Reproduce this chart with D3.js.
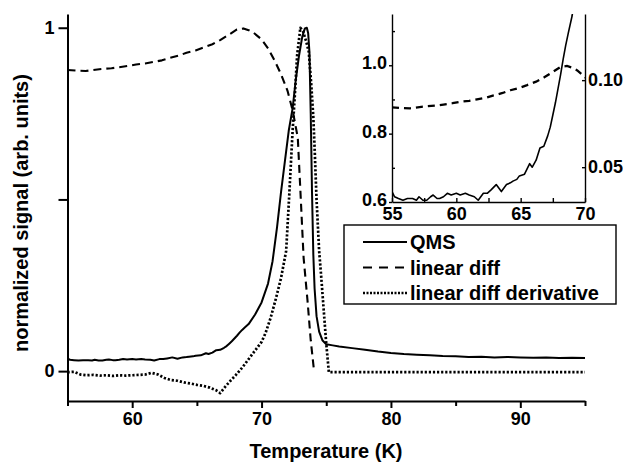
<!DOCTYPE html>
<html>
<head>
<meta charset="utf-8">
<script src="https://cdn.jsdelivr.net/npm/d3@7"></script>
<style>
  body { margin: 0; background: #fff; }
  svg { display: block; font-family: "Liberation Sans", Arial, Helvetica, sans-serif; font-weight: bold; }
  .axis text { font-size: 18px; font-weight: bold; fill: #000; }
  .axis path, .axis line { stroke: #000; }
</style>
</head>
<body>
<svg id="chart" width="623" height="464"></svg>
<script>
// QMS signal, normalized (T in K, value)
const qms = [
  [55, 0.036], [55.2, 0.033], [55.5, 0.032], [55.85, 0.031], [56.2, 0.032], [56.6, 0.032],
  [56.9, 0.031], [57.1, 0.033], [57.4, 0.031], [57.7, 0.031], [58.0, 0.033], [58.2, 0.034],
  [58.5, 0.032], [58.7, 0.032], [59.0, 0.033], [59.3, 0.035], [59.6, 0.034], [60.0, 0.035],
  [60.3, 0.034], [60.7, 0.035], [61.0, 0.034], [61.4, 0.033], [61.7, 0.031], [62.1, 0.035],
  [62.4, 0.035], [62.7, 0.037], [63.1, 0.040], [63.5, 0.036], [63.9, 0.040], [64.2, 0.041],
  [64.4, 0.042], [64.7, 0.043], [64.9, 0.045], [65.3, 0.046], [65.7, 0.052], [65.9, 0.050],
  [66.2, 0.054], [66.5, 0.061], [66.8, 0.062], [67.1, 0.068], [67.3, 0.073], [67.5, 0.080],
  [67.7, 0.087], [67.9, 0.095], [68.1, 0.103], [68.3, 0.112], [68.5, 0.120], [68.7, 0.127],
  [69.0, 0.137], [69.5, 0.165], [70.0, 0.200], [70.5, 0.255], [70.85, 0.320], [71.2, 0.420],
  [71.5, 0.520], [71.8, 0.610], [72.1, 0.700], [72.4, 0.765], [72.65, 0.850], [72.9, 0.920],
  [73.15, 0.975], [73.35, 0.998], [73.5, 1.000], [73.6, 0.985], [73.7, 0.930], [73.8, 0.750],
  [73.9, 0.520], [74.0, 0.340], [74.1, 0.240], [74.25, 0.160], [74.45, 0.115], [74.7, 0.090],
  [75.0, 0.078], [75.5, 0.075], [76, 0.072], [77, 0.067], [78, 0.062], [79, 0.057], [80, 0.053],
  [81, 0.050], [82, 0.048], [83, 0.046], [84, 0.044], [85, 0.043], [86, 0.041], [87, 0.042],
  [88, 0.040], [89, 0.041], [90, 0.040], [91, 0.039], [92, 0.040], [93, 0.038], [94, 0.039], [95, 0.038]
];

// linear diff, normalized
const linDiff = [
  [55, 0.877], [55.7, 0.875], [56.4, 0.874], [57.0, 0.877], [57.7, 0.880], [58.4, 0.882],
  [59.0, 0.885], [59.7, 0.889], [60.3, 0.893], [61.0, 0.896], [61.6, 0.900], [62.3, 0.905],
  [62.9, 0.912], [63.6, 0.919], [64.2, 0.927], [64.9, 0.934], [65.5, 0.942], [66.2, 0.952],
  [66.8, 0.964], [67.4, 0.978], [68.1, 0.995], [68.6, 0.998], [69.0, 0.993], [69.4, 0.985],
  [70.0, 0.966], [70.5, 0.940], [71.0, 0.905], [71.5, 0.865], [72.0, 0.817], [72.4, 0.760],
  [72.8, 0.680], [73.0, 0.526], [73.25, 0.330], [73.55, 0.206], [73.8, 0.090], [74.03, 0.010]
];

// derivative of linear diff, normalized
const linDiffDeriv = [
  [55, -0.003], [55.5, -0.002], [56, -0.010], [56.5, -0.012], [57, -0.011], [57.5, -0.013],
  [58, -0.012], [58.5, -0.014], [59, -0.012], [59.5, -0.013], [60, -0.012], [60.5, -0.011],
  [61, -0.010], [61.5, -0.005], [62, -0.010], [62.5, -0.020], [63, -0.026], [63.5, -0.028],
  [64, -0.033], [64.5, -0.036], [65, -0.040], [65.5, -0.043], [66, -0.048], [66.5, -0.056],
  [66.8, -0.064], [67.2, -0.045], [67.6, -0.028], [68, -0.012], [68.5, 0.010], [69, 0.035],
  [69.5, 0.060], [70, 0.085], [70.3, 0.110], [70.7, 0.155], [71.1, 0.210], [71.5, 0.270],
  [71.9, 0.350], [72.15, 0.520], [72.4, 0.700], [72.55, 0.790], [72.75, 0.920], [73.0, 1.000],
  [73.2, 0.990], [73.45, 0.960], [73.65, 0.930], [73.85, 0.830], [74.0, 0.740], [74.1, 0.650],
  [74.25, 0.500], [74.45, 0.350], [74.6, 0.280], [74.8, 0.180], [75.0, 0.080], [75.2, -0.003],
  [80, -0.003], [85, -0.003], [90, -0.003], [95, -0.003]
];

const mainXTicks = [60, 70, 80, 90];
const mainXMinor = [55, 65, 75, 85, 95];
const mainYTicks = [0, 0.5, 1];
const insetXTicks = [55, 60, 65, 70];
const insetXMinor = [57.5, 62.5, 67.5];
const insetLeftTicks = [0.6, 0.8, 1.0];
const insetLeftMinor = [0.7, 0.9, 1.1];
const insetRightTicks = [0.05, 0.10];
const legendLabels = ["QMS", "linear diff", "linear diff derivative"];

const svg = d3.select("#chart");

const styles = [
  { width: 2, dash: null },
  { width: 2.1, dash: "8,5" },
  { width: 2.7, dash: "2.2,1.9" }
];

// ---- main plot ----
const x = d3.scaleLinear().domain([55, 95]).range([67.5, 585]);
const y = d3.scaleLinear().domain([-0.087, 1.04]).range([401, 14]);

const line = d3.line().x(d => x(d[0])).y(d => y(d[1]));

[qms, linDiff, linDiffDeriv].forEach((data, i) => {
  svg.append("path")
    .datum(data)
    .attr("d", line)
    .attr("fill", "none")
    .attr("stroke", "#000")
    .attr("stroke-width", styles[i].width)
    .attr("stroke-dasharray", styles[i].dash)
    .attr("stroke-linejoin", "round");
});

svg.append("g").attr("class", "axis main").attr("transform", "translate(0,401)")
  .call(d3.axisBottom(x).tickValues(mainXTicks).tickSize(7).tickSizeOuter(0).tickPadding(4));
svg.append("g").attr("class", "axis main").attr("transform", "translate(0,401)")
  .call(d3.axisBottom(x).tickValues(mainXMinor).tickSize(5).tickSizeOuter(0).tickFormat(""))
  .select(".domain").remove();

svg.append("g").attr("class", "axis main").attr("transform", "translate(67.5,0)")
  .call(d3.axisLeft(y).tickValues(mainYTicks).tickSize(9).tickSizeOuter(0).tickPadding(4)
    .tickFormat(d => d === 0.5 ? "" : d3.format("d")(d)));

svg.selectAll(".main path, .main line").attr("stroke-width", 2);

svg.append("text")
  .attr("x", 326).attr("y", 458)
  .attr("text-anchor", "middle")
  .attr("font-size", 20)
  .text("Temperature (K)");

svg.append("text")
  .attr("transform", "translate(28,213) rotate(-90)")
  .attr("text-anchor", "middle")
  .attr("font-size", 20)
  .text("normalized signal (arb. units)");

// ---- inset ----
const ix = d3.scaleLinear().domain([55, 70]).range([392, 585]);
const iyL = d3.scaleLinear().domain([0.6, 1.15]).range([202, 14]);
const iyR = d3.scaleLinear().domain([0.03, 0.138]).range([202, 14]);

svg.append("clipPath").attr("id", "insetClip")
  .append("rect").attr("x", 392).attr("y", 14).attr("width", 193).attr("height", 188);

const inset = svg.append("g");
inset.append("rect").attr("x", 392).attr("y", 14).attr("width", 193).attr("height", 188).attr("fill", "#fff");

const plotIn = inset.append("g").attr("clip-path", "url(#insetClip)");
plotIn.append("path")
  .datum(qms.filter(d => d[0] <= 70))
  .attr("d", d3.line().x(d => ix(d[0])).y(d => iyR(d[1])))
  .attr("fill", "none").attr("stroke", "#000").attr("stroke-width", 1.6)
  .attr("stroke-linejoin", "round");
plotIn.append("path")
  .datum(linDiff.filter(d => d[0] <= 70.5))
  .attr("d", d3.line().x(d => ix(d[0])).y(d => iyL(d[1])))
  .attr("fill", "none").attr("stroke", "#000").attr("stroke-width", 2.3)
  .attr("stroke-dasharray", "7,5");

const insetAxes = inset.append("g");
insetAxes.append("g").attr("class", "axis").attr("transform", "translate(0,202)")
  .call(d3.axisBottom(ix).tickValues(insetXTicks).tickSize(0).tickPadding(5).tickFormat(d3.format("d")));
insetAxes.append("g").attr("class", "axis").attr("transform", "translate(0,202)")
  .call(d3.axisTop(ix).tickValues(insetXTicks.concat(insetXMinor)).tickSize(4).tickSizeOuter(0).tickFormat(""))
  .select(".domain").remove();
insetAxes.append("g").attr("class", "axis left").attr("transform", "translate(392,0)")
  .call(d3.axisLeft(iyL).tickValues(insetLeftTicks).tickSize(3).tickSizeOuter(0).tickPadding(2).tickFormat(d3.format(".1f")));
insetAxes.select(".left").selectAll("text").attr("dy", "0.2em");
insetAxes.append("g").attr("class", "axis").attr("transform", "translate(392,0)")
  .call(d3.axisRight(iyL).tickValues(insetLeftMinor).tickSize(3).tickSizeOuter(0).tickFormat(""))
  .select(".domain").remove();
insetAxes.append("g").attr("class", "axis").attr("transform", "translate(585,0)")
  .call(d3.axisRight(iyR).tickValues(insetRightTicks).tickSize(0).tickSizeOuter(0).tickPadding(3).tickFormat(d3.format(".2f")));
insetAxes.append("g").attr("class", "axis").attr("transform", "translate(585,0)")
  .call(d3.axisLeft(iyR).tickValues(insetRightTicks).tickSize(3).tickSizeOuter(0).tickFormat(""))
  .select(".domain").remove();
insetAxes.selectAll("path, line").attr("stroke-width", 1.4);

// ---- legend ----
const legend = svg.append("g");
legend.append("rect")
  .attr("x", 344).attr("y", 225).attr("width", 272).attr("height", 79)
  .attr("fill", "#fff").attr("stroke", "#000").attr("stroke-width", 1.4);

const legendDash = [null, "9,7", "2,1.5"];
const legendY = d3.scalePoint().domain(legendLabels).range([242, 293]);

legendLabels.forEach((label, i) => {
  const ly = legendY(label);
  legend.append("line")
    .attr("x1", 363).attr("x2", 407).attr("y1", ly).attr("y2", ly)
    .attr("stroke", "#000").attr("stroke-width", i === 2 ? 2.4 : 2)
    .attr("stroke-dasharray", legendDash[i]);
  legend.append("text")
    .attr("x", 410).attr("y", ly).attr("dy", "0.36em")
    .attr("font-size", 20)
    .text(label);
});
</script>
</body>
</html>
